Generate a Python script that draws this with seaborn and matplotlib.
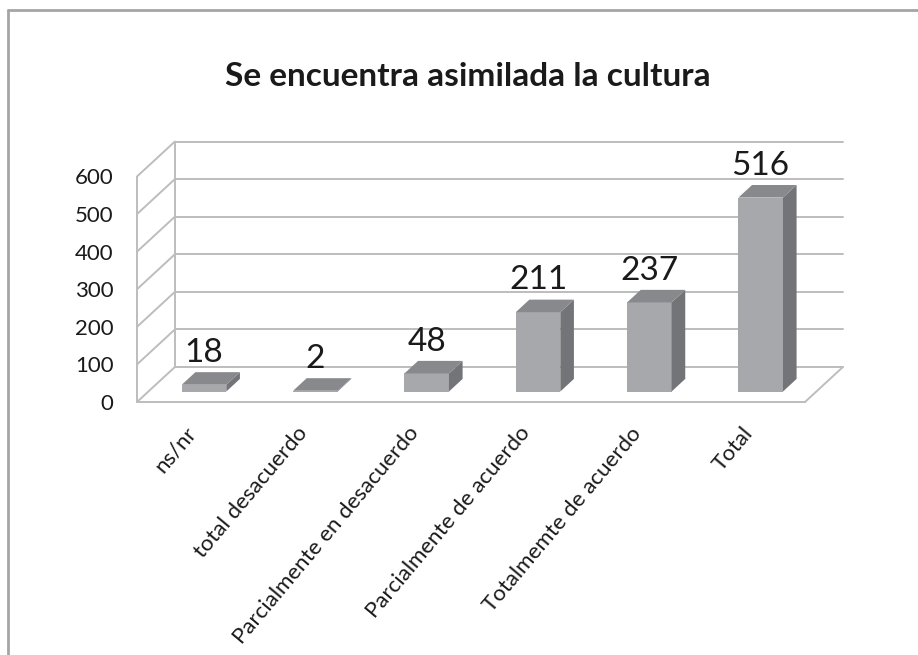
import numpy as np
import pandas as pd
import matplotlib.pyplot as plt
import seaborn as sns
from matplotlib.patches import Polygon
from matplotlib.lines import Line2D

# data
categories = ['ns/nr', 'total desacuerdo', 'Parcialmente en desacuerdo',
              'Parcialmente de acuerdo', 'Totalmemte de acuerdo', 'Total']
counts = [18, 2, 48, 211, 237, 516]
y_ticks = [0, 100, 200, 300, 400, 500, 600]
title = 'Se encuentra asimilada la cultura'

# fake 3d depth, in data units (categories / value)
DX, DY = 0.34, 93
BAR_Z0, BAR_Z1 = 0.30, 0.66
BAR_W = 0.40

FRONT = '#a7a8ab'
SIDE = '#737478'
TOP = '#88898c'
GRID = '#bdbdbd'

sns.set_style('white')
plt.rcParams['font.family'] = ['Lato', 'DejaVu Sans']

W, H = 918, 655
fig = plt.figure(figsize=(W / 100, H / 100), dpi=100)
ax = fig.add_axes([137 / W, (H - 402) / H, (805 - 137) / W, (402 - 176.5) / H])

x0, x1 = -0.5, len(categories) - 0.5
top_v = y_ticks[-1]

# walls and floor
for v in y_ticks:
    ax.plot([x0, x0 + DX], [v, v + DY], color=GRID, lw=1.4, clip_on=False, zorder=1)
    ax.plot([x0 + DX, x1 + DX], [v + DY, v + DY], color=GRID, lw=1.4, clip_on=False, zorder=1)
ax.plot([x0 + DX, x0 + DX], [DY, top_v + DY], color=GRID, lw=1.4, clip_on=False, zorder=1)
ax.plot([x1, x1 + DX], [0, DY], color=GRID, lw=1.4, clip_on=False, zorder=1)

# front faces
df = pd.DataFrame({'cat': categories, 'n': counts})
sns.barplot(data=df, x='cat', y='n', color=FRONT, width=BAR_W, saturation=1,
            linewidth=0, ax=ax, zorder=3)

d = BAR_Z1 - BAR_Z0
for i, (p, v) in enumerate(zip(ax.patches, counts)):
    p.set_x(p.get_x() + BAR_Z0 * DX)
    p.set_y(BAR_Z0 * DY)
    p.set_clip_on(False)
    xl = p.get_x()
    xr = xl + BAR_W
    yb = BAR_Z0 * DY
    yt = yb + v
    side = [(xr, yb), (xr + d * DX, yb + d * DY), (xr + d * DX, yt + d * DY), (xr, yt)]
    top = [(xl, yt), (xr, yt), (xr + d * DX, yt + d * DY), (xl + d * DX, yt + d * DY)]
    ax.add_patch(Polygon(side, closed=True, facecolor=SIDE, edgecolor='none', zorder=3, clip_on=False))
    ax.add_patch(Polygon(top, closed=True, facecolor=TOP, edgecolor='none', zorder=3, clip_on=False))
    ax.annotate(str(v), xy=(i + BAR_Z0 * DX, v + BAR_Z1 * DY), xytext=(0, 3),
                textcoords='offset points', ha='center', va='bottom',
                fontsize=24, color='#1a1a1a', annotation_clip=False)

ax.set_xlim(x0, x1)
ax.set_ylim(0, top_v)
ax.set_xlabel('')
ax.set_ylabel('')
ax.set_yticks(y_ticks)
ax.set_yticklabels([str(t) for t in y_ticks], fontsize=16, color='#1a1a1a')
ax.set_xticks(range(len(categories)))
ax.set_xticklabels(categories, rotation=50, ha='right', va='center',
                   rotation_mode='anchor', fontsize=16, color='#1a1a1a')
ax.set_xticks(np.arange(x0, x1 + 0.01, 1), minor=True)
ax.tick_params(axis='x', which='major', length=0, pad=20)
ax.tick_params(axis='x', which='minor', length=4, color=GRID, width=1.4)
ax.tick_params(axis='y', length=4, color=GRID, width=1.4, pad=13)
for s in ['top', 'right']:
    ax.spines[s].set_visible(False)
for s in ['left', 'bottom']:
    ax.spines[s].set_color(GRID)
    ax.spines[s].set_linewidth(1.4)
ax.set_facecolor('none')

fig.text(468 / W, 1 - 76 / H, title, ha='center', va='center',
         fontsize=24, fontweight='bold', color='#1a1a1a')

# outer frame of the chart area
fig.add_artist(Line2D([8 / W, 8 / W], [0, 1 - 10 / H], transform=fig.transFigure,
                      color='#a5a5a5', lw=2))
fig.add_artist(Line2D([8 / W, 1], [1 - 10 / H, 1 - 10 / H], transform=fig.transFigure,
                      color='#a5a5a5', lw=2))

fig.savefig('out.png', dpi=100)
